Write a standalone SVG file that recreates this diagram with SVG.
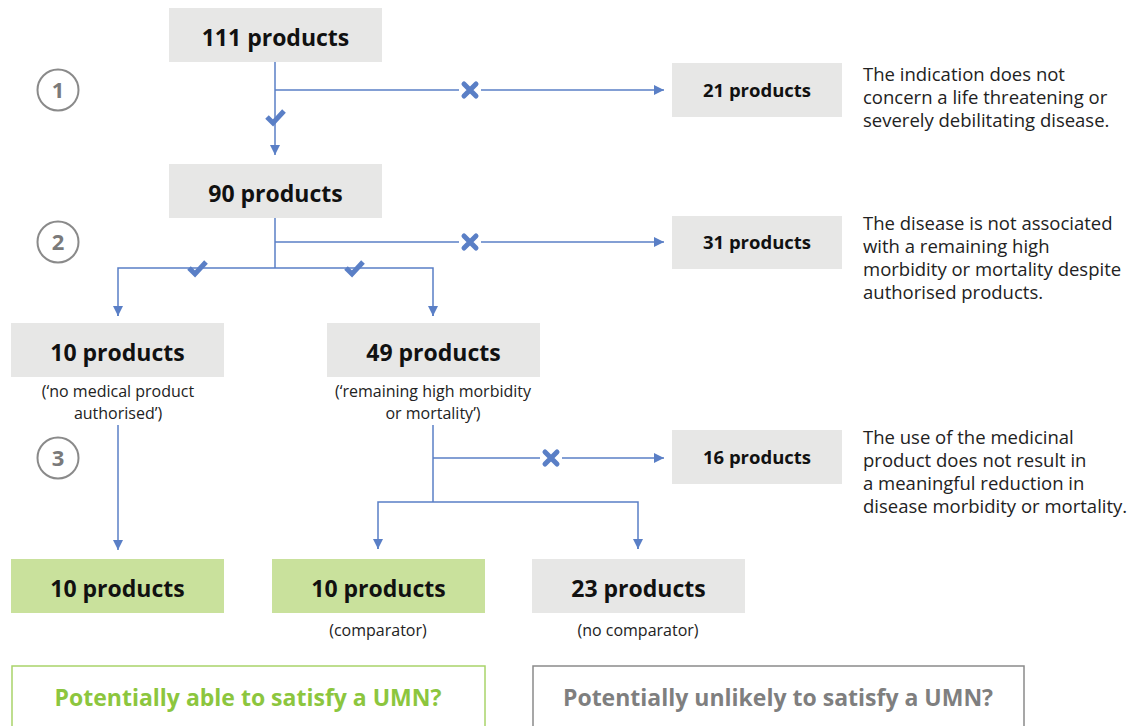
<svg xmlns="http://www.w3.org/2000/svg" width="1146" height="726" viewBox="0 0 1146 726">
<defs>
<marker id="ah" viewBox="0 0 10 10" refX="10" refY="5" markerWidth="10" markerHeight="10" markerUnits="userSpaceOnUse" orient="auto">
<path d="M0,0 L10,5 L0,10 Z" fill="#5a7fc6"/>
</marker>
<g id="chk"><path d="M-8,0 L-2,6 L9,-6" fill="none" stroke="#5a7fc6" stroke-width="5" stroke-linejoin="miter" stroke-linecap="butt"/></g>
<g id="crs"><rect x="-11" y="-10" width="22" height="20" fill="#fff"/><path d="M-6,-6 L6,6 M6,-6 L-6,6" stroke="#5a7fc6" stroke-width="5" stroke-linecap="round"/></g>
</defs>
<style>
text{font-family:"Open Sans","Noto Sans","Liberation Sans",sans-serif;}
.box{fill:#e7e7e6;}
.gbox{fill:#c9e19c;}
.big{font-size:23px;font-weight:700;fill:#111;text-anchor:middle;}
.mid{font-size:18.5px;font-weight:700;fill:#111;text-anchor:middle;}
.sub{font-size:16px;fill:#222;text-anchor:middle;}
.desc{font-size:18.5px;fill:#222;}
.ln{fill:none;stroke:#5a7fc6;stroke-width:1.5;}
.circ{fill:#fff;stroke:#8a8a8a;stroke-width:2;}
.num{font-size:22px;font-weight:700;fill:#7a7a7a;text-anchor:middle;}
</style>
<rect width="1146" height="726" fill="#fff"/>

<g id="connectors">
<path class="ln" d="M275,62 V155" marker-end="url(#ah)"/>
<path class="ln" d="M275,90 H664" marker-end="url(#ah)"/>
<path class="ln" d="M275,218 V268"/>
<path class="ln" d="M275,242 H664" marker-end="url(#ah)"/>
<path class="ln" d="M118,316 V268 H433 V316" />
<path class="ln" d="M118,306 V316" marker-end="url(#ah)"/>
<path class="ln" d="M433,306 V316" marker-end="url(#ah)"/>
<path class="ln" d="M118,425 V550" marker-end="url(#ah)"/>
<path class="ln" d="M433,425 V502"/>
<path class="ln" d="M433,458 H664" marker-end="url(#ah)"/>
<path class="ln" d="M378,549 V502 H638 V549"/>
<path class="ln" d="M378,540 V549" marker-end="url(#ah)"/>
<path class="ln" d="M638,540 V549" marker-end="url(#ah)"/>
<use href="#chk" x="275" y="117"/>
<use href="#chk" x="197" y="268"/>
<use href="#chk" x="354" y="268"/>
<use href="#crs" x="470" y="90"/>
<use href="#crs" x="470" y="242"/>
<use href="#crs" x="551" y="458"/>
</g>

<g id="step1"><circle class="circ" cx="58" cy="90" r="20.5"/><text class="num" x="58" y="98">1</text></g>
<g id="step2"><circle class="circ" cx="58" cy="242" r="20.5"/><text class="num" x="58" y="250">2</text></g>
<g id="step3"><circle class="circ" cx="58" cy="458" r="20.5"/><text class="num" x="58" y="466">3</text></g>

<g id="n111"><rect class="box" x="169" y="8" width="213" height="54"/><text class="big" x="275.5" y="46">111 products</text></g>
<g id="n90"><rect class="box" x="169" y="164" width="213" height="54"/><text class="big" x="275.5" y="202">90 products</text></g>
<g id="n21"><rect class="box" x="672" y="63" width="170" height="54"/><text class="mid" x="757" y="97">21 products</text></g>
<g id="n31"><rect class="box" x="672" y="216" width="170" height="53"/><text class="mid" x="757" y="249">31 products</text></g>
<g id="n16"><rect class="box" x="672" y="430" width="170" height="54"/><text class="mid" x="757" y="464">16 products</text></g>

<g id="d1"><text class="desc" x="863" y="81">The indication does not</text><text class="desc" x="863" y="104">concern a life threatening or</text><text class="desc" x="863" y="127">severely debilitating disease.</text></g>
<g id="d2"><text class="desc" x="863" y="230">The disease is not associated</text><text class="desc" x="863" y="253">with a remaining high</text><text class="desc" x="863" y="276">morbidity or mortality despite</text><text class="desc" x="863" y="299">authorised products.</text></g>
<g id="d3"><text class="desc" x="863" y="444">The use of the medicinal</text><text class="desc" x="863" y="467">product does not result in</text><text class="desc" x="863" y="490">a meaningful reduction in</text><text class="desc" x="863" y="513">disease morbidity or mortality.</text></g>

<g id="n10a"><rect class="box" x="11" y="323" width="213" height="54"/><text class="big" x="117.5" y="361">10 products</text><text class="sub" x="118" y="397">(‘no medical product</text><text class="sub" x="118" y="419">authorised’)</text></g>
<g id="n49"><rect class="box" x="327" y="323" width="213" height="54"/><text class="big" x="433.5" y="361">49 products</text><text class="sub" x="433" y="397">(‘remaining high morbidity</text><text class="sub" x="433" y="419">or mortality’)</text></g>

<g id="n10b"><rect class="gbox" x="11" y="559" width="213" height="54"/><text class="big" x="117.5" y="597">10 products</text></g>
<g id="n10c"><rect class="gbox" x="272" y="559" width="213" height="54"/><text class="big" x="378.5" y="597">10 products</text><text class="sub" x="378" y="636">(comparator)</text></g>
<g id="n23"><rect class="box" x="532" y="559" width="213" height="54"/><text class="big" x="638.5" y="597">23 products</text><text class="sub" x="638" y="636">(no comparator)</text></g>

<g id="able"><rect x="12" y="666" width="473" height="70" fill="#fff" stroke="#a9d46a" stroke-width="1.5"/><text x="248" y="706" font-size="23" font-weight="700" fill="#8cc63e" text-anchor="middle">Potentially able to satisfy a UMN?</text></g>
<g id="unlikely"><rect x="533" y="666" width="491" height="70" fill="#fff" stroke="#8a8a8a" stroke-width="1.5"/><text x="778" y="706" font-size="23" font-weight="700" fill="#7f7f7f" text-anchor="middle">Potentially unlikely to satisfy a UMN?</text></g>
</svg>
